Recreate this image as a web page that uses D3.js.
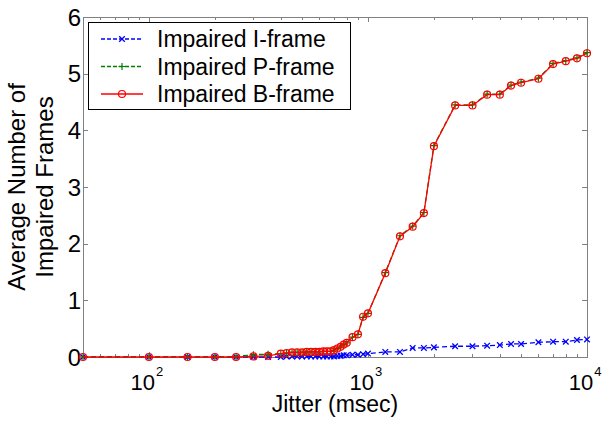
<!DOCTYPE html>
<meta charset='utf-8'>
<style>
  body { margin: 0; background: #fff; }
  text { font-family: 'Liberation Sans', Arial, sans-serif; fill: #000; }
</style>
<svg width='606' height='423'></svg>
<script src="https://d3js.org/d3.v7.min.js"></script>
<script>
  // jitter values (msec) shared by all three series
  var jitter = [50,100,150,200,250,300,350,400,425,450,475,500,525,550,575,600,625,650,675,700,725,750,775,800,850,900,950,1000,1200,1400,1600,1800,2000,2500,3000,3500,4000,4500,5000,6000,7000,8000,9000,10000];

  var iFrame = [0,0,0,0,0,0,0,0, 0.01,0.01,0.01,0.01,0.01,0.01,0.01,0.01, 0.01,0.01,0.01,0.01,0.02,0.02,0.03,0.03, 0.04,0.04,0.05,0.06, 0.09,0.09,0.16,0.16,0.17, 0.19,0.19,0.20,0.21,0.23,0.23,0.26,0.27,0.27,0.30,0.31];
  var pFrame = [0,0,0,0,0.01,0.04,0.05,0.06, 0.07,0.08,0.08,0.08,0.09,0.09,0.09,0.09, 0.10,0.10,0.10,0.12,0.15,0.18,0.22,0.25, 0.35,0.40,0.70,0.77, 1.49,2.14,2.31,2.55,3.73, 4.45,4.45,4.64,4.64,4.80,4.85,4.92,5.18,5.23,5.28,5.37];
  var bFrame = [0,0,0,0,0,0.01,0.02,0.06, 0.07,0.08,0.08,0.08,0.09,0.09,0.09,0.09, 0.10,0.10,0.10,0.12,0.15,0.18,0.22,0.25, 0.35,0.40,0.71,0.77, 1.48,2.13,2.30,2.54,3.72, 4.44,4.44,4.63,4.63,4.79,4.84,4.91,5.17,5.22,5.27,5.36];

  var seriesNames = ['Impaired I-frame', 'Impaired P-frame', 'Impaired B-frame'];
  var yTicks = [0,1,2,3,4,5,6];
  var xDecades = [100, 1000, 10000];

  var svg = d3.select('svg');
  var pLeft = 83, pRight = 587, pTop = 17, pBottom = 357;
  var axisColor = '#808080';

  var x = d3.scaleLog().domain([50, 10000]).range([pLeft, pRight]);
  var y = d3.scaleLinear().domain([0, 6]).range([pBottom, pTop]);

  // box
  svg.append('rect')
    .attr('x', pLeft + 0.5).attr('y', pTop + 0.5)
    .attr('width', pRight - pLeft).attr('height', pBottom - pTop)
    .attr('fill', 'none').attr('stroke', axisColor).attr('stroke-width', 1);

  // x ticks (major + minor), inward on top and bottom
  var minor = [];
  [10, 100, 1000].forEach(function(d) {
    for (var k = 2; k <= 9; k++) {
      var v = d * k;
      if (v >= 50 && v <= 10000) minor.push(v);
    }
  });
  var ticks = svg.append('g');
  xDecades.forEach(function(v) {
    var px = Math.round(x(v)) + 0.5;
    ticks.append('line').attr('x1', px).attr('x2', px).attr('y1', pBottom).attr('y2', pBottom - 5).attr('stroke', axisColor);
    ticks.append('line').attr('x1', px).attr('x2', px).attr('y1', pTop).attr('y2', pTop + 5).attr('stroke', axisColor);
  });
  minor.forEach(function(v) {
    var px = Math.round(x(v)) + 0.5;
    ticks.append('line').attr('x1', px).attr('x2', px).attr('y1', pBottom).attr('y2', pBottom - 3).attr('stroke', axisColor);
    ticks.append('line').attr('x1', px).attr('x2', px).attr('y1', pTop).attr('y2', pTop + 3).attr('stroke', axisColor);
  });
  yTicks.forEach(function(v) {
    var py = Math.round(y(v)) + 0.5;
    ticks.append('line').attr('x1', pLeft).attr('x2', pLeft + 5).attr('y1', py).attr('y2', py).attr('stroke', axisColor);
    ticks.append('line').attr('x1', pRight).attr('x2', pRight - 5).attr('y1', py).attr('y2', py).attr('stroke', axisColor);
  });

  // tick labels
  svg.selectAll('.ylab').data(yTicks).enter().append('text')
    .attr('class', 'ylab')
    .attr('x', pLeft - 2)
    .attr('y', function(d) { return y(d) + 8.5; })
    .attr('text-anchor', 'end')
    .attr('font-size', 24)
    .text(function(d) { return d; });

  var xl = svg.selectAll('.xlab').data(xDecades).enter().append('text')
    .attr('class', 'xlab')
    .attr('x', function(d) { return x(d) - 2; })
    .attr('y', 390)
    .attr('text-anchor', 'middle')
    .attr('font-size', 22);
  xl.append('tspan').text('10');
  xl.append('tspan').attr('dy', -14).attr('dx', 1).attr('font-size', 13)
    .text(function(d) { return Math.round(Math.log10(d)); });

  // axis titles
  svg.append('text')
    .attr('x', 335).attr('y', 412)
    .attr('text-anchor', 'middle')
    .attr('font-size', 23)
    .text('Jitter (msec)');

  var yt = svg.append('text')
    .attr('transform', 'translate(0,187) rotate(-90)')
    .attr('text-anchor', 'middle')
    .attr('font-size', 24);
  yt.append('tspan').attr('x', 0).attr('y', 25).text('Average Number of');
  yt.append('tspan').attr('x', 0).attr('y', 53).text('Impaired Frames');

  // series
  var series = [
    { name: seriesNames[0], values: iFrame, color: '#0000ff', dash: '5,3', marker: 'x' },
    { name: seriesNames[1], values: pFrame, color: '#008000', dash: '5,3', marker: '+' },
    { name: seriesNames[2], values: bFrame, color: '#ff0000', dash: null, marker: 'o' }
  ];

  var line = d3.line()
    .x(function(d) { return x(d[0]); })
    .y(function(d) { return y(d[1]); });

  function drawMarker(g, type, cx, cy, color) {
    if (type === 'o') {
      g.append('circle').attr('cx', cx).attr('cy', cy).attr('r', 3.5)
        .attr('fill', 'none').attr('stroke', color).attr('stroke-width', 1.2);
    } else if (type === 'x') {
      var s = 2.8;
      g.append('path')
        .attr('d', 'M' + (cx - s) + ',' + (cy - s) + 'L' + (cx + s) + ',' + (cy + s) +
                   'M' + (cx - s) + ',' + (cy + s) + 'L' + (cx + s) + ',' + (cy - s))
        .attr('stroke', color).attr('stroke-width', 1.3);
    } else {
      var t = 3.5;
      g.append('path')
        .attr('d', 'M' + (cx - t) + ',' + cy + 'L' + (cx + t) + ',' + cy +
                   'M' + cx + ',' + (cy - t) + 'L' + cx + ',' + (cy + t))
        .attr('stroke', color).attr('stroke-width', 1.2);
    }
  }

  series.forEach(function(s) {
    var pts = jitter.map(function(j, i) { return [j, s.values[i]]; });
    var g = svg.append('g');
    g.append('path')
      .attr('d', line(pts))
      .attr('fill', 'none')
      .attr('stroke', s.color)
      .attr('stroke-width', 1.3)
      .attr('stroke-dasharray', s.dash);
    pts.forEach(function(p) {
      drawMarker(g, s.marker, x(p[0]), y(p[1]), s.color);
    });
  });

  // legend
  var lg = svg.append('g');
  lg.append('rect')
    .attr('x', 88.5).attr('y', 22.5).attr('width', 262).attr('height', 87)
    .attr('fill', '#fff').attr('stroke', '#000').attr('stroke-width', 1);
  series.forEach(function(s, i) {
    var ly = 39 + i * 27.5;
    lg.append('line')
      .attr('x1', 101).attr('x2', 143).attr('y1', ly).attr('y2', ly)
      .attr('stroke', s.color).attr('stroke-width', 1.3)
      .attr('stroke-dasharray', s.dash ? '4,2' : null);
    drawMarker(lg, s.marker, 122, ly, s.color);
    lg.append('text')
      .attr('x', 157).attr('y', ly + 8)
      .attr('font-size', 23)
      .text(s.name);
  });
</script>
